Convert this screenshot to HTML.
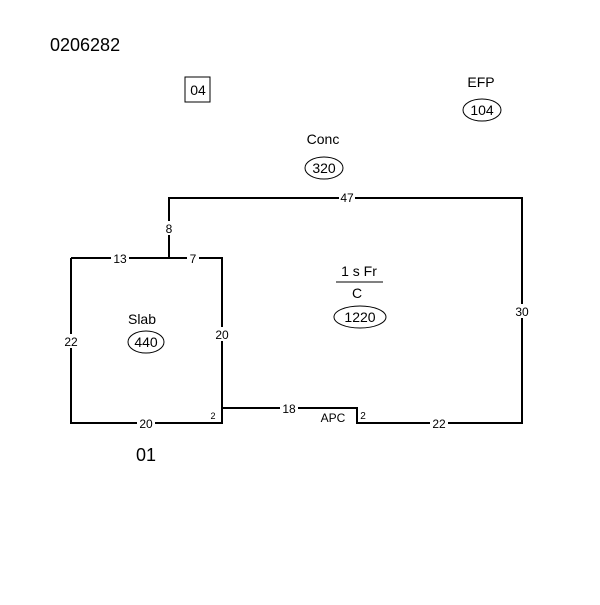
<!DOCTYPE html>
<html><head><style>html,body{margin:0;padding:0;background:#fff}</style></head><body>
<svg width="600" height="600" xmlns="http://www.w3.org/2000/svg" font-family="Liberation Sans, Arial, sans-serif">
<rect width="600" height="600" fill="#fff"/>
<g stroke="#000" stroke-width="2" fill="none">
<polyline points="169,258 169,198 522,198 522,423 357,423 357,408 222,408"/>
<polyline points="71,258 222,258 222,423 71,423 71,258"/>
</g>
<g font-size="12" text-anchor="middle" fill="#000">
<g fill="#fff"><rect x="339" y="192" width="16" height="12"/><rect x="162" y="221" width="14" height="14"/><rect x="111" y="252" width="18" height="12"/><rect x="187" y="252" width="12" height="12"/><rect x="62" y="334" width="18" height="14"/><rect x="213" y="327" width="18" height="14"/><rect x="137" y="417" width="18" height="12"/><rect x="280" y="402" width="18" height="12"/><rect x="430" y="417" width="18" height="12"/><rect x="513" y="304" width="18" height="14"/></g>
<text x="347" y="202">47</text>
<text x="169" y="233">8</text>
<text x="120" y="263">13</text>
<text x="193" y="263">7</text>
<text x="71" y="346">22</text>
<text x="222" y="339">20</text>
<text x="146" y="428">20</text>
<text x="289" y="413">18</text>
<text x="439" y="428">22</text>
<text x="522" y="316">30</text>
<text x="333" y="422">APC</text>
<text x="213" y="419" font-size="9">2</text>
<text x="363" y="419" font-size="10">2</text>
</g>
<g font-size="14" text-anchor="middle" fill="#000">
<text x="142" y="324">Slab</text>
<ellipse cx="146" cy="342" rx="18" ry="11" fill="none" stroke="#000"/>
<text x="146" y="347">440</text>
<text x="359" y="276">1 s Fr</text>
<line x1="336" y1="282" x2="383" y2="282" stroke="#000"/>
<text x="357" y="298">C</text>
<ellipse cx="360" cy="317" rx="26" ry="11" fill="none" stroke="#000"/>
<text x="360" y="322">1220</text>
<text x="323" y="144">Conc</text>
<ellipse cx="324" cy="168" rx="19" ry="11" fill="none" stroke="#000"/>
<text x="324" y="173">320</text>
<text x="481" y="87">EFP</text>
<ellipse cx="482" cy="110" rx="19" ry="11" fill="none" stroke="#000"/>
<text x="482" y="115">104</text>
<rect x="185" y="77" width="25" height="25" fill="none" stroke="#000"/>
<text x="198" y="95">04</text>
</g>
<text x="50" y="51" font-size="18" fill="#000">0206282</text>
<text x="146" y="461" font-size="18" text-anchor="middle" fill="#000">01</text>
</svg>
</body></html>
